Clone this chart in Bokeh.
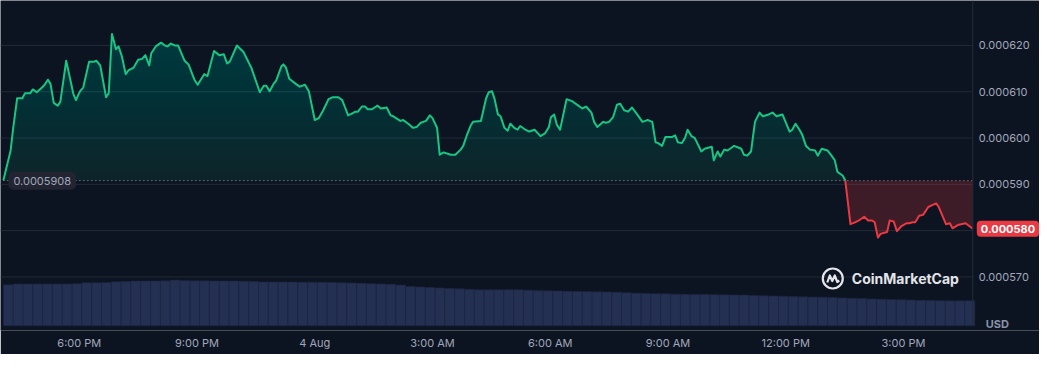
import numpy as np
from bokeh.plotting import figure
from bokeh.models import Range1d, FixedTicker, Label
from bokeh.embed import file_html
from bokeh.resources import INLINE
from bokeh.core.properties import value

# ---------------- data ----------------
# minutes since 3 Aug 16:00
times = [4, 15, 19, 25, 33, 37, 45, 49, 55, 63,
         67, 72, 76, 81, 87, 91, 100, 111, 115, 121,
         126, 135, 143, 146, 152, 161, 165, 170, 176, 180,
         185, 191, 195, 203, 210, 216, 221, 227, 230, 237,
         245, 251, 255, 260, 266, 271, 281, 287, 296, 301,
         311, 316, 326, 334, 341, 346, 350, 361, 371, 379,
         383, 396, 402, 406, 411, 417, 421, 429, 432, 436,
         441, 451, 457, 465, 471, 480, 486, 493, 501, 507,
         516, 522, 531, 537, 542, 546, 552, 557, 561, 567,
         576, 581, 590, 596, 600, 611, 615, 623, 630, 636,
         642, 650, 656, 660, 667, 671, 677, 688, 695, 703,
         707, 712, 718, 722, 734, 737, 742, 746, 751, 755,
         760, 764, 770, 775, 779, 785, 790, 794, 802, 808,
         816, 825, 832, 838, 841, 846, 850, 855, 865, 873,
         883, 889, 895, 903, 907, 912, 921, 925, 930, 936,
         942, 947, 953, 959, 965, 974, 981, 989, 996, 1001,
         1005, 1011, 1016, 1026, 1031, 1035, 1041, 1046, 1050, 1056,
         1061, 1071, 1076, 1087, 1090, 1096, 1100, 1106, 1111, 1121,
         1132, 1136, 1141, 1147, 1153, 1160, 1165, 1174, 1180, 1186,
         1195, 1206, 1210, 1215, 1221, 1225, 1231, 1237, 1245, 1249,
         1255, 1264, 1270, 1275, 1279, 1287, 1291, 1299, 1306, 1312,
         1320, 1326, 1332, 1336, 1341, 1345, 1355, 1359, 1365, 1370,
         1377, 1385, 1389, 1394, 1398, 1404, 1410, 1418, 1424, 1430,
         1434, 1445, 1451, 1455, 1463, 1475, 1486]

prices = [0.0005909, 0.0005973, 0.0006022, 0.0006086, 0.0006086, 0.0006097, 0.0006097, 0.0006105, 0.0006099, 0.0006109,
          0.0006115, 0.0006126, 0.0006117, 0.0006076, 0.0006070, 0.0006078, 0.0006167, 0.0006095, 0.0006082, 0.0006101,
          0.0006109, 0.0006165, 0.0006165, 0.0006167, 0.0006157, 0.0006088, 0.0006097, 0.0006225, 0.0006192, 0.0006198,
          0.0006177, 0.0006138, 0.0006146, 0.0006152, 0.0006169, 0.0006171, 0.0006179, 0.0006157, 0.0006183, 0.0006198,
          0.0006206, 0.0006200, 0.0006198, 0.0006204, 0.0006200, 0.0006200, 0.0006167, 0.0006159, 0.0006126, 0.0006115,
          0.0006138, 0.0006134, 0.0006188, 0.0006179, 0.0006181, 0.0006161, 0.0006165, 0.0006200, 0.0006186, 0.0006163,
          0.0006152, 0.0006099, 0.0006113, 0.0006113, 0.0006101, 0.0006117, 0.0006124, 0.0006155, 0.0006159, 0.0006152,
          0.0006128, 0.0006117, 0.0006111, 0.0006115, 0.0006101, 0.0006039, 0.0006043, 0.0006060, 0.0006084, 0.0006088,
          0.0006088, 0.0006082, 0.0006049, 0.0006053, 0.0006057, 0.0006057, 0.0006068, 0.0006068, 0.0006062, 0.0006062,
          0.0006070, 0.0006064, 0.0006066, 0.0006049, 0.0006047, 0.0006037, 0.0006039, 0.0006031, 0.0006022, 0.0006024,
          0.0006033, 0.0006037, 0.0006049, 0.0006043, 0.0006022, 0.0005964, 0.0005969, 0.0005964, 0.0005964, 0.0005975,
          0.0005983, 0.0006004, 0.0006026, 0.0006035, 0.0006037, 0.0006055, 0.0006086, 0.0006099, 0.0006101, 0.0006084,
          0.0006051, 0.0006047, 0.0006022, 0.0006016, 0.0006031, 0.0006022, 0.0006018, 0.0006026, 0.0006018, 0.0006014,
          0.0006018, 0.0006004, 0.0006010, 0.0006024, 0.0006045, 0.0006051, 0.0006029, 0.0006018, 0.0006084, 0.0006080,
          0.0006070, 0.0006064, 0.0006068, 0.0006055, 0.0006035, 0.0006024, 0.0006035, 0.0006033, 0.0006035, 0.0006045,
          0.0006072, 0.0006074, 0.0006060, 0.0006057, 0.0006066, 0.0006049, 0.0006035, 0.0006039, 0.0006035, 0.0005991,
          0.0005989, 0.0005983, 0.0006002, 0.0006002, 0.0006006, 0.0005991, 0.0005989, 0.0006000, 0.0006018, 0.0006004,
          0.0006000, 0.0005971, 0.0005977, 0.0005981, 0.0005952, 0.0005971, 0.0005960, 0.0005975, 0.0005973, 0.0005983,
          0.0005977, 0.0005964, 0.0005962, 0.0005971, 0.0006035, 0.0006055, 0.0006047, 0.0006051, 0.0006055, 0.0006047,
          0.0006051, 0.0006014, 0.0006018, 0.0006031, 0.0006018, 0.0006008, 0.0005983, 0.0005975, 0.0005973, 0.0005962,
          0.0005977, 0.0005973, 0.0005962, 0.0005952, 0.0005927, 0.0005919, 0.0005909, 0.0005814, 0.0005818, 0.0005822,
          0.0005830, 0.0005822, 0.0005822, 0.0005818, 0.0005785, 0.0005793, 0.0005797, 0.0005822, 0.0005820, 0.0005799,
          0.0005810, 0.0005816, 0.0005816, 0.0005818, 0.0005818, 0.0005832, 0.0005834, 0.0005851, 0.0005855, 0.0005859,
          0.0005851, 0.0005814, 0.0005816, 0.0005805, 0.0005812, 0.0005816, 0.0005804]

open_price = 0.0005908

tick_minutes = [120, 300, 480, 660, 840, 1020, 1200, 1380]
tick_labels = ["6:00 PM", "9:00 PM", "4 Aug", "3:00 AM", "6:00 AM", "9:00 AM", "12:00 PM", "3:00 PM"]
price_ticks = [0.00057, 0.00058, 0.00059, 0.00060, 0.00061, 0.00062]
currency = "USD"

# 15-minute volume bins (relative units)
vol_step = 15
volumes = [427, 435, 435, 435, 436, 436, 437, 440, 450, 450,
           452, 460, 461, 467, 467, 468, 470, 477, 472, 470,
           470, 468, 467, 467, 466, 462, 458, 457, 457, 456,
           455, 455, 454, 452, 450, 447, 443, 440, 437, 433,
           425, 410, 405, 400, 395, 390, 386, 380, 377, 377,
           377, 377, 377, 372, 367, 365, 363, 360, 358, 357,
           355, 352, 350, 345, 340, 337, 335, 333, 330, 328,
           327, 326, 325, 323, 322, 320, 317, 313, 310, 308,
           305, 302, 299, 297, 294, 291, 288, 284, 280, 277,
           274, 271, 268, 265, 263, 262, 261, 260, 262]
vol_times = [times[0] + vol_step / 2 + vol_step * i for i in range(len(volumes))]

# ---------------- style / layout ----------------
BG = "#0d1421"
GREEN = "#16c784"
RED = "#ea3943"
GRID = "#232a37"
TXT = "#a1a7bb"
FONT = "Inter"

W, H = 1039, 354
FRAME_H = 330
# visible ranges (layout): the frame also hosts the price-label column on the right
X_START, X_END = -0.45, 1588.0
Y_START, Y_END = 0.00055843, 0.00062971
X0, X1 = times[0], times[-1]
PX_X = (X_END - X_START) / W
PX_Y = (Y_END - Y_START) / FRAME_H

p = figure(width=W, height=H, output_backend="svg", toolbar_location=None,
           x_range=Range1d(X_START, X_END), y_range=Range1d(Y_START, Y_END),
           y_axis_location=None, background_fill_color=BG, border_fill_color=BG,
           min_border_left=0, min_border_top=0, min_border_right=0, min_border_bottom=H - FRAME_H)
p.outline_line_color = None
p.xgrid.visible = False
p.ygrid.visible = False
p.extra_y_ranges = {"vol": Range1d(-50, 3400)}

# horizontal price grid lines (stop at the price column)
p.segment(x0=[X_START] * len(price_ticks), x1=[X1] * len(price_ticks),
          y0=price_ticks, y1=price_ticks, line_color=GRID, line_width=1)

# volume
p.vbar(x=vol_times, top=volumes, width=vol_step, bottom=0, y_range_name="vol",
       fill_color="#243052", line_color="#1c2442", line_width=0.6)

t = np.array(times, float)
pr = np.array(prices, float)


def refine(levels):
    xs = list(t)
    for i in range(len(t) - 1):
        p0, p1 = pr[i], pr[i + 1]
        for L in levels:
            if (p0 - L) * (p1 - L) < 0:
                xs.append(t[i] + (L - p0) / (p1 - p0) * (t[i + 1] - t[i]))
    xs = np.unique(np.array(xs))
    return xs, np.interp(xs, t, pr)


pmax = pr.max()
n_layers = 22
levels = list(np.linspace(open_price, pmax, n_layers + 1)[1:-1])
xr, yr = refine([open_price] + levels)

# green area with vertical gradient (stacked translucent layers)
a0 = 0.10
delta = 1 - (0.70 / (1 - a0)) ** (1.0 / len(levels))
p.varea(x=xr, y1=open_price, y2=np.maximum(yr, open_price), fill_color=GREEN, fill_alpha=a0)
for lv in levels:
    p.varea(x=xr, y1=lv, y2=np.maximum(yr, lv), fill_color=GREEN, fill_alpha=delta)

# red area
p.varea(x=xr, y1=np.minimum(yr, open_price), y2=open_price, fill_color=RED, fill_alpha=0.22)

# price line
green_y = np.where(yr >= open_price, yr, np.nan)
red_y = np.where(yr <= open_price, yr, np.nan)
p.line(xr, green_y, line_color=GREEN, line_width=2, line_join="round")
p.line(xr, red_y, line_color=RED, line_width=2, line_join="round")

# open price dotted line
p.segment(x0=[X0], x1=[X1], y0=[open_price], y1=[open_price], line_color="#aeb4c2",
          line_alpha=0.85, line_width=1, line_dash="1 3")

# vertical separator of the price column
p.segment(x0=[X1], x1=[X1], y0=[Y_START + 5 * PX_Y], y1=[Y_END], line_color="#252c3a", line_width=1)

# price labels column
p.text(x=[X1] * len(price_ticks), y=price_ticks, text=["%.6f" % v for v in price_ticks],
       x_offset=6, text_baseline="middle", text_align="left", text_color=TXT,
       text_font=value(FONT), text_font_size="11px")

# x axis
p.xaxis.ticker = FixedTicker(ticks=tick_minutes)
p.xaxis.major_label_overrides = {k: v for k, v in zip(tick_minutes, tick_labels)}
p.xaxis.major_tick_line_color = None
p.xaxis.minor_tick_line_color = None
p.xaxis.major_tick_out = 0
p.xaxis.major_tick_in = 0
p.xaxis.axis_line_color = None
p.xaxis.major_label_text_color = TXT
p.xaxis.major_label_text_font = FONT
p.xaxis.major_label_text_font_size = "11px"
p.xaxis.major_label_standoff = 5

# open price label
p.add_layout(Label(x=X0, y=open_price, text="%.7f" % open_price, x_offset=5,
                   text_baseline="middle", text_align="left", text_color=TXT,
                   text_font=FONT, text_font_size="11px",
                   background_fill_color="#222531", padding=5, border_radius=5))

# last price badge
p.add_layout(Label(x=X1, y=prices[-1], text="%.6f" % prices[-1], x_offset=4,
                   text_baseline="middle", text_align="left", text_color="#ffffff",
                   text_font=FONT, text_font_size="11px", text_font_style="bold",
                   background_fill_color=RED, padding=4, border_radius=4))

# currency tag
p.add_layout(Label(x=X1, y=Y_START + 7 * PX_Y, text=currency, x_offset=13,
                   text_baseline="middle", text_align="left", text_color="#8a93a7",
                   text_font=FONT, text_font_size="11px", text_font_style="bold"))

# CoinMarketCap watermark
logo_y = Y_START + 52 * PX_Y
p.add_layout(Label(x=X1 - 121 * PX_X, y=logo_y, text="CoinMarketCap",
                   text_baseline="middle", text_align="left", text_color="#e3e5ea",
                   text_font=FONT, text_font_size="14px", text_font_style="bold"))
icon_x = X1 - 140 * PX_X
p.scatter([icon_x], [logo_y], marker="circle", size=20, fill_alpha=0,
          line_color="#e3e5ea", line_width=2.2)
m_dx = [-5.5, -3.0, -0.5, 2.0, 4.5, 6.5]
m_dy = [4.0, -3.0, 2.5, -3.0, 3.5, 2.0]
p.line([icon_x + d * PX_X for d in m_dx], [logo_y - d * PX_Y for d in m_dy],
       line_color="#e3e5ea", line_width=2.2, line_join="round")

open("out.html", "w").write(file_html(p, INLINE))
